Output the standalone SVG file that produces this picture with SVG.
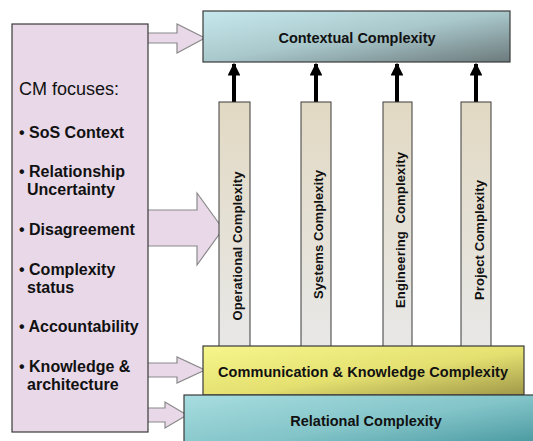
<svg xmlns="http://www.w3.org/2000/svg" width="533" height="441" viewBox="0 0 533 441">
<defs>
<linearGradient id="gCtx" x1="0" y1="0" x2="1" y2="1"><stop offset="0" stop-color="#c6e8ec"/><stop offset="0.5" stop-color="#a9c8cc"/><stop offset="1" stop-color="#6c7a7c"/></linearGradient>
<linearGradient id="gCol" x1="0" y1="0" x2="0" y2="1"><stop offset="0" stop-color="#e2d9c3"/><stop offset="1" stop-color="#e8e8e8"/></linearGradient>
<linearGradient id="gYel" x1="0" y1="0" x2="1" y2="1"><stop offset="0" stop-color="#f6f68c"/><stop offset="0.55" stop-color="#e4e070"/><stop offset="1" stop-color="#a09848"/></linearGradient>
<linearGradient id="gRel" x1="0" y1="0" x2="1" y2="1"><stop offset="0" stop-color="#a8dde0"/><stop offset="0.5" stop-color="#82c4c8"/><stop offset="1" stop-color="#3a8e96"/></linearGradient>
<marker id="ah" viewBox="0 0 10 10" refX="9" refY="5" markerWidth="3.4" markerHeight="3.2" orient="auto" markerUnits="strokeWidth"><path d="M0,0 L10,5 L0,10 z" fill="#000"/></marker>
</defs>
<style>
.box{stroke:#3a3a3a;stroke-width:1.2}
.col{fill:url(#gCol);stroke:#3a3a3a;stroke-width:1}
.bl{fill:#e8d8e8;stroke:#8a8a8a;stroke-width:1.2}
.t{font-family:"Liberation Sans",Arial,sans-serif;font-weight:bold;fill:#111}
.h{font-family:"Liberation Sans",Arial,sans-serif;font-weight:normal;fill:#111;font-size:18px}
.b{font-family:"Liberation Sans",Arial,sans-serif;font-weight:bold;fill:#111;font-size:16px}
.ct{font-family:"Liberation Sans",Arial,sans-serif;font-weight:bold;fill:#111;font-size:13px}
.up{stroke:#000;stroke-width:4;fill:none;marker-end:url(#ah)}
</style>
<g id="connectors">
<path class="up" d="M234,102 L234,64"/>
<path class="up" d="M316,102 L316,64"/>
<path class="up" d="M397,102 L397,64"/>
<path class="up" d="M476,102 L476,64"/>
<path class="bl" d="M147,33 L177,33 L177,24 L205,38 L177,53 L177,43 L147,43 Z"/>
<path class="bl" d="M147,210 L197,210 L197,193 L223,229 L197,265 L197,246 L147,246 Z"/>
<path class="bl" d="M147,363 L177,363 L177,357 L205,370 L177,383 L177,377 L147,377 Z"/>
<path class="bl" d="M147,408 L165,408 L165,402 L187,415 L165,428 L165,422 L147,422 Z"/>
</g>
<g id="cm-focuses">
<rect x="12" y="24" width="136" height="408" fill="#e8d8e8" stroke="#3a3a3a" stroke-width="1.2"/>
<text class="h" x="19" y="95">CM focuses:</text>
<text class="b" x="19" y="138">• SoS Context</text>
<text class="b" x="19" y="177">• Relationship</text>
<text class="b" x="27" y="195">Uncertainty</text>
<text class="b" x="19" y="235">• Disagreement</text>
<text class="b" x="19" y="275">• Complexity</text>
<text class="b" x="27" y="293">status</text>
<text class="b" x="19" y="332">• Accountability</text>
<text class="b" x="19" y="372">• Knowledge &amp;</text>
<text class="b" x="27" y="390">architecture</text>
</g>
<g id="contextual">
<rect class="box" x="203" y="11" width="307" height="51" fill="url(#gCtx)"/>
<text class="t" x="357" y="43" font-size="14.5" text-anchor="middle">Contextual Complexity</text>
</g>
<g id="operational">
<rect class="col" x="219" y="102" width="31" height="250"/>
<text class="ct" transform="translate(242,246) rotate(-90)" text-anchor="middle" textLength="149">Operational Complexity</text>
</g>
<g id="systems">
<rect class="col" x="301" y="102" width="30" height="250"/>
<text class="ct" transform="translate(323,234.5) rotate(-90)" text-anchor="middle" textLength="129">Systems Complexity</text>
</g>
<g id="engineering">
<rect class="col" x="383" y="102" width="29" height="250"/>
<text class="ct" transform="translate(405,230) rotate(-90)" text-anchor="middle" textLength="156" xml:space="preserve">Engineering  Complexity</text>
</g>
<g id="project">
<rect class="col" x="461" y="102" width="30" height="250"/>
<text class="ct" transform="translate(484,240) rotate(-90)" text-anchor="middle" textLength="120">Project Complexity</text>
</g>
<g id="communication">
<rect class="box" x="203" y="346" width="321" height="49" fill="url(#gYel)"/>
<text class="t" x="363" y="377" font-size="14.5" text-anchor="middle" textLength="290">Communication &amp; Knowledge Complexity</text>
</g>
<g id="relational">
<rect class="box" x="184" y="395" width="360" height="60" fill="url(#gRel)"/>
<text class="t" x="366" y="426" font-size="14.5" text-anchor="middle">Relational Complexity</text>
</g>
</svg>
